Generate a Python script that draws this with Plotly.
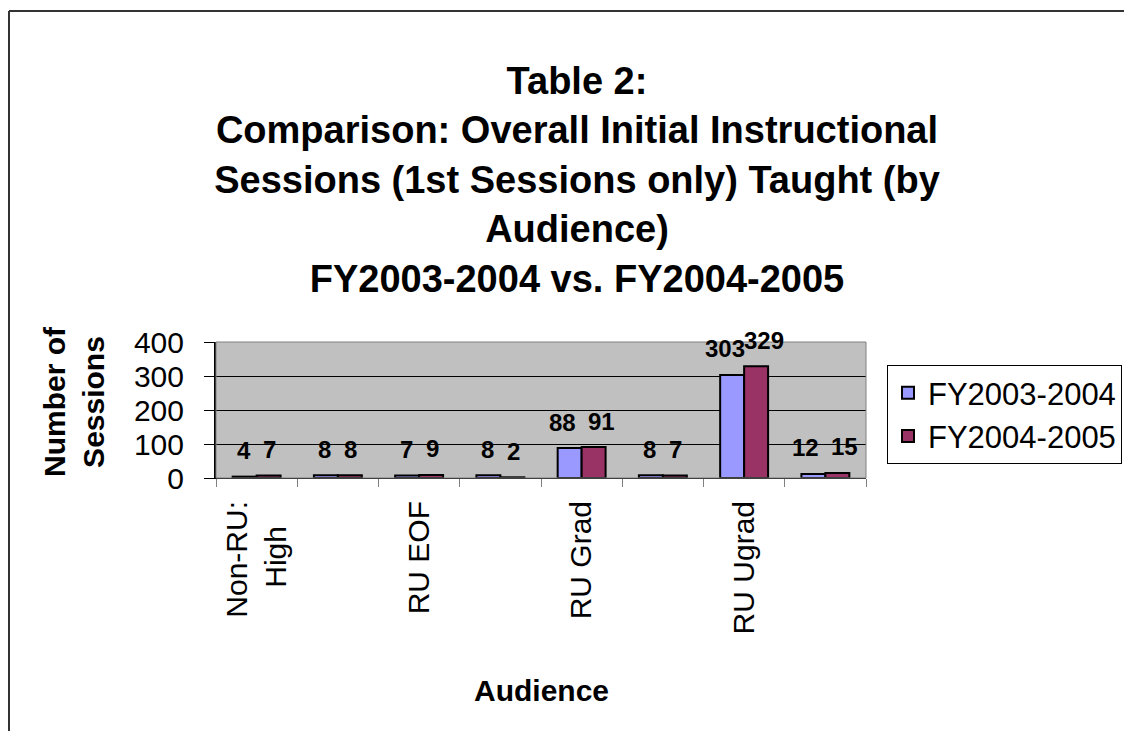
import plotly.graph_objects as go

categories = ["Non-RU: High", "Non-RU: Other", "RU EOF", "RU Faculty",
              "RU Grad", "RU Staff", "RU Ugrad", "Unknown"]
tick_labels = ["Non-RU:<br>High&nbsp;&nbsp;&nbsp;", "", "RU EOF", "", "RU Grad", "",
               "RU Ugrad", ""]
fy0304 = [4, 8, 7, 8, 88, 8, 303, 12]
fy0405 = [7, 8, 9, 2, 91, 7, 329, 15]
series_names = ["FY2003-2004", "FY2004-2005"]
y_ticks = [0, 100, 200, 300, 400]

FONT = "Liberation Sans, Arial, sans-serif"

# page offset (default body margin) and target plot area in window pixels
OFF = 8
W, H = 1132, 739
FW, FH = W - 2 * OFF, H - 2 * OFF
L, R, T, B = 216, 866, 342, 478
pw, ph = R - L, B - T


def px_x(px):
    return (px - L) / pw


def px_y(py):
    return (B - py) / ph


fig = go.Figure()
fig.add_trace(go.Bar(x=categories, y=fy0304, name=series_names[0],
                     marker=dict(color="#9999FF", line=dict(color="black", width=2))))
fig.add_trace(go.Bar(x=categories, y=fy0405, name=series_names[1],
                     marker=dict(color="#993366", line=dict(color="black", width=2))))

annotations = []
for c, a, b in zip(categories, fy0304, fy0405):
    n = max(len(str(a)), len(str(b)))
    s = 13 if n == 1 else 19.5
    for v, shift in ((a, -s), (b, s)):
        annotations.append(dict(x=c, y=v, xref="x", yref="y", text=f"<b>{v}</b>",
                                showarrow=False, xshift=shift, yshift=26,
                                yanchor="middle", xanchor="center",
                                font=dict(family=FONT, size=24, color="black")))

annotations.append(dict(x=px_x(541), y=px_y(690), xref="paper", yref="paper",
                        text="<b>Audience</b>", showarrow=False,
                        xanchor="center", yanchor="middle",
                        font=dict(family=FONT, size=30, color="black")))
annotations.append(dict(x=px_x(74), y=px_y(402), xref="paper", yref="paper",
                        text="<b>Number of<br>Sessions</b>", showarrow=False,
                        textangle=-90, xanchor="center", yanchor="middle",
                        font=dict(family=FONT, size=30, color="black")))

shapes = [
    dict(type="rect", xref="paper", yref="paper", x0=0, x1=1, y0=0, y1=1,
         line=dict(color="#808080", width=1), layer="above"),
    dict(type="line", xref="paper", yref="paper", x0=px_x(9), x1=px_x(1140),
         y0=px_y(11), y1=px_y(11), line=dict(color="#333333", width=2)),
    dict(type="line", xref="paper", yref="paper", x0=px_x(9), x1=px_x(9),
         y0=px_y(11), y1=px_y(745), line=dict(color="#333333", width=2)),
]

fig.update_layout(
    width=FW, height=FH,
    margin=dict(l=L - OFF, r=W - OFF - R, t=T - OFF, b=H - OFF - B, autoexpand=False),
    paper_bgcolor="white", plot_bgcolor="#C0C0C0",
    barmode="group", bargap=0.41, bargroupgap=0,
    font=dict(family=FONT, color="black"),
    title=dict(text="<b>Table 2:<br>Comparison: Overall Initial Instructional<br>"
                    "Sessions (1st Sessions only) Taught (by<br>Audience)<br>"
                    "FY2003-2004 vs. FY2004-2005</b>",
               x=(577 - OFF) / FW, xanchor="center",
               y=1 - (94 - OFF) / FH, yanchor="top",
               xref="container", yref="container",
               font=dict(family=FONT, size=38, color="black")),
    showlegend=True,
    legend=dict(x=px_x(887), y=px_y(365), xanchor="left", yanchor="top",
                bgcolor="white", bordercolor="black", borderwidth=1,
                font=dict(family=FONT, size=31, color="black"),
                tracegroupgap=2, itemwidth=30),
    xaxis=dict(type="category", tickvals=categories, ticktext=tick_labels,
               tickangle=-90, tickson="boundaries", ticks="outside", ticklen=8,
               tickcolor="#808080", showline=True, linecolor="black", linewidth=1,
               showgrid=False, tickfont=dict(family=FONT, size=30, color="black"),
               ticklabelstandoff=10, fixedrange=True),
    yaxis=dict(range=[0, 400], tickvals=y_ticks, ticks="outside", ticklen=10,
               tickcolor="black", showline=True, linecolor="black", linewidth=2,
               showgrid=True, gridcolor="black", gridwidth=1, zeroline=False,
               ticklabelstandoff=14,
               tickfont=dict(family=FONT, size=30, color="black"), fixedrange=True),
    annotations=annotations,
    shapes=shapes,
)

fig.write_html("out.html")
